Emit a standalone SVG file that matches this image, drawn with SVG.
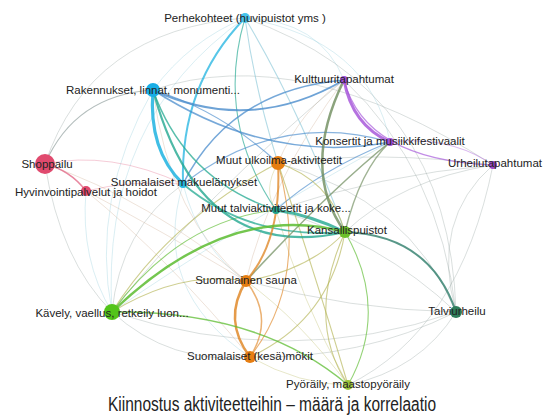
<svg xmlns="http://www.w3.org/2000/svg" width="547" height="415" viewBox="0 0 547 415">
<style>
.e{fill:none;stroke-linecap:round}
.cy{stroke:#1fb3e0}
.bl{stroke:#4a8ccc}
.te{stroke:#22a890}
.pu{stroke:#a24fd8}
.gg{stroke:#6e8c5c}
.or{stroke:#e0892a}
.ol{stroke:#b4b454}
.gr{stroke:#5cbc30}
.gy{stroke:#8a9a98}
.pk{stroke:#e06080}
.tn{stroke:#c8a88a}
.lt{stroke:#8cc8d8}
.lbl{font-family:"Liberation Sans",Arial,sans-serif;font-size:11.5px;fill:#222;text-anchor:middle}
</style>
<rect width="547" height="415" fill="#fff"/>
<g id="edges">
<g stroke-width="0.8" stroke-opacity="0.4">
<path class="e lt" d="M245,18 Q190,40 153,90"/>
<path class="e lt" d="M245,18 Q320,20 344,80"/>
<path class="e lt" d="M245,18 Q370,40 390,142"/>
<path class="e gy" d="M245,18 Q450,90 456,312"/>
<path class="e gy" d="M245,18 Q90,30 45,164"/>
<path class="e lt" d="M245,18 Q100,120 112,312"/>
<path class="e lt" d="M153,90 Q90,200 112,312"/>
<path class="e gy" d="M183,184 Q120,230 112,312"/>
<path class="e tn" d="M153,90 Q170,220 246,281"/>
<path class="e lt" d="M183,184 Q200,250 246,281"/>
<path class="e tn" d="M344,80 Q300,110 278,163"/>
<path class="e gy" d="M344,80 Q200,200 112,312"/>
<path class="e gy" d="M344,80 Q440,170 456,312"/>
<path class="e tn" d="M344,80 Q270,180 246,281"/>
<path class="e lt" d="M390,142 Q230,230 112,312"/>
<path class="e ol" d="M278,163 Q262,190 276,210"/>
<path class="e ol" d="M250,357 Q300,385 348,385"/>
<path class="e ol" d="M246,281 Q300,320 348,385"/>
<path class="e gy" d="M112,312 Q170,365 250,357"/>
<path class="e ol" d="M276,210 Q300,300 348,385"/>
<path class="e gy" d="M456,312 Q430,220 493,165"/>
<path class="e gy" d="M456,312 Q410,200 278,163"/>
<path class="e gy" d="M456,312 Q380,240 276,210"/>
<path class="e gy" d="M456,312 Q350,310 246,281"/>
<path class="e gy" d="M456,312 Q290,370 112,312"/>
<path class="e gy" d="M456,312 Q360,360 250,357"/>
<path class="e gy" d="M456,312 Q420,370 348,385"/>
<path class="e gy" d="M493,165 Q380,150 278,163"/>
<path class="e gy" d="M493,165 Q400,180 345,232"/>
<path class="e gy" d="M493,165 Q380,175 276,210"/>
<path class="e gy" d="M493,165 Q460,330 348,385"/>
<path class="e pk" d="M45,164 Q110,150 183,184"/>
<path class="e pk" d="M86,191 Q130,180 183,184"/>
<path class="e tn" d="M45,164 Q150,200 246,281"/>
<path class="e tn" d="M86,191 Q170,260 250,357"/>
<path class="e gy" d="M45,164 Q60,260 112,312"/>
<path class="e lt" d="M86,191 Q80,260 112,312"/>
<path class="e tn" d="M86,191 Q160,230 246,281"/>
<path class="e gy" d="M153,90 Q300,40 493,165"/>
<path class="e lt" d="M183,184 Q150,290 250,357"/>
</g>
<g stroke-width="1.1" stroke-opacity="0.65">
<path class="e lt" d="M245,18 Q255,90 278,163"/>
<path class="e te" d="M245,18 Q215,120 276,210"/>
<path class="e lt" d="M245,18 Q300,110 345,232"/>
<path class="e bl" d="M153,90 Q220,110 278,163"/>
<path class="e pu" d="M344,80 Q365,160 493,165"/>
<path class="e pu" stroke-opacity="0.4" d="M390,142 Q450,135 493,165"/>
<path class="e bl" d="M390,142 Q320,170 276,210"/>
<path class="e gy" d="M153,90 Q75,95 45,164"/>
<path class="e or" d="M278,163 Q310,280 250,357"/>
<path class="e ol" d="M278,163 Q330,180 345,232"/>
<path class="e ol" d="M278,163 Q320,290 348,385"/>
<path class="e ol" d="M278,163 Q170,220 112,312"/>
<path class="e ol" d="M246,281 Q310,270 345,232"/>
<path class="e ol" d="M250,357 Q330,320 345,232"/>
<path class="e ol" d="M112,312 Q180,270 246,281"/>
<path class="e gr" d="M112,312 Q180,220 276,210"/>
<path class="e ol" d="M345,232 Q305,320 348,385"/>
<path class="e gr" d="M345,232 Q390,310 348,385"/>
</g>
<path class="e cy" stroke-width="3.2" stroke-opacity="0.85" d="M153,90 Q148,150 183,184"/>
<path class="e cy" stroke-width="2" stroke-opacity="0.75" d="M245,18 Q180,85 183,184"/>
<path class="e bl" stroke-width="2" stroke-opacity="0.8" d="M153,90 Q250,135 344,80"/>
<path class="e bl" stroke-width="1.5" stroke-opacity="0.75" d="M153,90 Q270,165 390,142"/>
<path class="e bl" stroke-width="1.5" stroke-opacity="0.75" d="M183,184 Q230,90 344,80"/>
<path class="e bl" stroke-width="1.2" stroke-opacity="0.65" d="M183,184 Q280,110 390,142"/>
<path class="e te" stroke-width="1.5" stroke-opacity="0.75" d="M153,90 Q185,180 276,210"/>
<path class="e te" stroke-width="2.2" stroke-opacity="0.8" d="M153,90 Q200,265 345,232"/>
<path class="e te" stroke-width="1.8" stroke-opacity="0.75" d="M183,184 Q250,240 345,232"/>
<path class="e te" stroke-width="3" stroke-opacity="0.8" d="M276,210 Q310,215 345,232"/>
<path class="e pu" stroke-width="3" stroke-opacity="0.8" d="M344,80 Q352,125 390,142"/>
<path class="e gg" stroke-width="2.5" stroke-opacity="0.8" d="M344,80 Q300,170 345,232"/>
<path class="e gg" stroke-width="1.6" stroke-opacity="0.7" d="M390,142 Q330,190 246,281"/>
<path class="e gg" stroke-width="1.4" stroke-opacity="0.65" d="M390,142 Q360,170 345,232"/>
<path class="e or" stroke-width="2.5" stroke-opacity="0.85" d="M246,281 Q222,320 250,357"/>
<path class="e or" stroke-width="1.5" stroke-opacity="0.65" d="M246,281 Q275,318 250,357"/>
<path class="e or" stroke-width="2" stroke-opacity="0.8" d="M278,163 Q282,240 246,281"/>
<path class="e gr" stroke-width="2.5" stroke-opacity="0.85" d="M112,312 Q228,200 345,232"/>
<path class="e gr" stroke-width="1.5" stroke-opacity="0.75" d="M112,312 Q260,310 348,385"/>
<path class="e" stroke="#2e7d6a" stroke-width="2" stroke-opacity="0.8" d="M345,232 Q430,235 456,312"/>
<path class="e pk" stroke-width="1.5" stroke-opacity="0.75" d="M45,164 Q70,170 86,191"/>
</g>
<g id="n-perhe"><circle cx="245" cy="18" r="5" fill="#47c3ea"/><text class="lbl" x="245" y="22">Perhekohteet (huvipuistot yms )</text></g>
<g id="n-rakennukset"><circle cx="153" cy="90" r="7" fill="#18aee6"/><text class="lbl" x="153" y="94">Rakennukset, linnat, monumenti...</text></g>
<g id="n-kulttuuri"><circle cx="344" cy="80" r="4" fill="#a24fd8"/><text class="lbl" x="344" y="83">Kulttuuritapahtumat</text></g>
<g id="n-shoppailu"><circle cx="45" cy="164" r="10" fill="#e04a6e"/><text class="lbl" x="47" y="168">Shoppailu</text></g>
<g id="n-hyvinvointi"><circle cx="86" cy="191" r="5" fill="#e04a6e"/><text class="lbl" x="86" y="196">Hyvinvointipalvelut ja hoidot</text></g>
<g id="n-maku"><circle cx="183" cy="184" r="4" fill="#26b8e0"/><text class="lbl" x="184" y="186">Suomalaiset makuelämykset</text></g>
<g id="n-ulkoilma"><circle cx="278" cy="163" r="7" fill="#e67e12"/><text class="lbl" x="279" y="164">Muut ulkoilma-aktiviteetit</text></g>
<g id="n-konsertit"><circle cx="390" cy="142" r="4" fill="#a24fd8"/><text class="lbl" x="390" y="145">Konsertit ja musiikkifestivaalit</text></g>
<g id="n-urheilu"><circle cx="493" cy="165" r="4" fill="#9a48c8"/><text class="lbl" x="495" y="167">Urheilutapahtumat</text></g>
<g id="n-talvi"><circle cx="276" cy="210" r="4" fill="#22a08a"/><text class="lbl" x="276" y="212">Muut talviaktiviteetit ja koke...</text></g>
<g id="n-kansallis"><circle cx="345" cy="232" r="6" fill="#6cc02a"/><text class="lbl" x="347" y="234">Kansallispuistot</text></g>
<g id="n-sauna"><circle cx="246" cy="281" r="6" fill="#e67e12"/><text class="lbl" x="246" y="284">Suomalainen sauna</text></g>
<g id="n-kavely"><circle cx="112" cy="312" r="8" fill="#52c41a"/><text class="lbl" x="112" y="317">Kävely, vaellus, retkeily luon...</text></g>
<g id="n-mokit"><circle cx="250" cy="357" r="6" fill="#e67e12"/><text class="lbl" x="250" y="360">Suomalaiset (kesä)mökit</text></g>
<g id="n-talviurheilu"><circle cx="456" cy="312" r="6" fill="#2e7d5b"/><text class="lbl" x="457" y="315">Talviurheilu</text></g>
<g id="n-pyoraily"><circle cx="348" cy="385" r="5" fill="#9cc43a"/><text class="lbl" x="348" y="388">Pyöräily, maastopyöräily</text></g>
<text x="272" y="411" font-family="'Liberation Sans',Arial,sans-serif" font-size="20" fill="#222" text-anchor="middle" textLength="328" lengthAdjust="spacingAndGlyphs">Kiinnostus aktiviteetteihin – määrä ja korrelaatio</text>
</svg>
